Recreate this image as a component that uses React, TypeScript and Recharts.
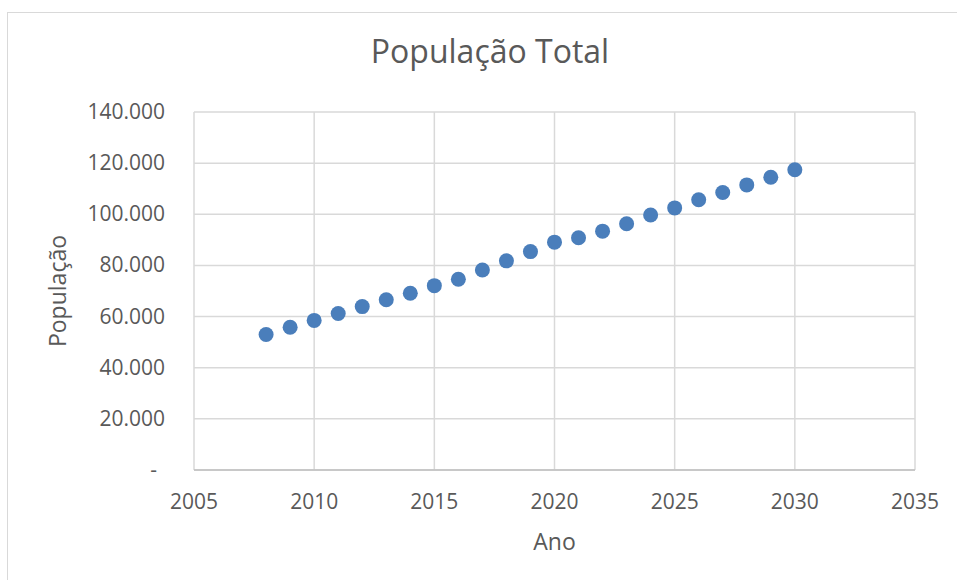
import { CartesianGrid, Label, Scatter, ScatterChart, XAxis, YAxis } from "recharts"

const years = [2008, 2009, 2010, 2011, 2012, 2013, 2014, 2015, 2016, 2017, 2018, 2019, 2020, 2021, 2022, 2023, 2024, 2025, 2026, 2027, 2028, 2029, 2030]
const population = [53000, 55800, 58500, 61200, 63900, 66600, 69100, 72100, 74600, 78200, 81800, 85400, 89100, 90800, 93400, 96300, 99700, 102500, 105700, 108500, 111500, 114500, 117400]
const xTicks = [2005, 2010, 2015, 2020, 2025, 2030, 2035]
const yTicks = [0, 20000, 40000, 60000, 80000, 100000, 120000, 140000]

const FONT = "'Open Sans', sans-serif"
const TEXT = "#595959"

const data = years.map((ano, i) => ({ ano, pop: population[i] }))

const fmt = (v: number) => (v === 0 ? "-" : v.toLocaleString("pt-BR"))

function YTick(props: any) {
  const { x, y, payload } = props
  const isZero = payload.value === 0
  return (
    <text x={isZero ? x - 8 : x} y={y} dy={7} textAnchor="end" fill={TEXT} fontSize={21} fontFamily={FONT}>
      {fmt(payload.value)}
    </text>
  )
}

function XTick(props: any) {
  const { x, y, payload } = props
  return (
    <text x={x} y={y} dy={39} textAnchor="middle" fill={TEXT} fontSize={21} fontFamily={FONT}>
      {payload.value}
    </text>
  )
}

function Dot(props: any) {
  return <circle cx={props.cx} cy={props.cy} r={7.5} fill="#4a7ebb" />
}

export default function App() {
  return (
    <div style={{ position: "absolute", left: 0, top: 0, width: 957, height: 580, background: "#fff", overflow: "hidden" }}>
      <div style={{ position: "absolute", left: 7, top: 12, width: 1100, height: 1100, border: "1.5px solid #d9d9d9" }} />
      <div
        style={{
          position: "absolute",
          left: 290,
          width: 400,
          top: 35,
          textAlign: "center",
          fontFamily: FONT,
          fontSize: 32,
          lineHeight: "32px",
          color: TEXT,
        }}
      >
        População Total
      </div>
      <div style={{ position: "absolute", left: 0, top: 0 }}>
        <ScatterChart width={957} height={580} margin={{ top: 112, right: 42, bottom: 0, left: 0 }}>
          <CartesianGrid stroke="#d9d9d9" strokeWidth={1.5} />
          <XAxis
            type="number"
            dataKey="ano"
            domain={[2005, 2035]}
            ticks={xTicks}
            height={110}
            tickSize={0}
            tickMargin={0}
            tickLine={false}
            axisLine={{ stroke: "#bfbfbf", strokeWidth: 1.5 }}
            tick={<XTick />}
            interval={0}
          >
            <Label
              content={(p: any) => (
                <text
                  x={p.viewBox.x + p.viewBox.width / 2}
                  y={p.viewBox.y + 80}
                  textAnchor="middle"
                  fill={TEXT}
                  fontSize={23}
                  fontFamily={FONT}
                >
                  Ano
                </text>
              )}
            />
          </XAxis>
          <YAxis
            type="number"
            dataKey="pop"
            domain={[0, 140000]}
            ticks={yTicks}
            width={194}
            tickSize={0}
            tickMargin={29}
            tickLine={false}
            axisLine={false}
            tick={<YTick />}
            interval={0}
          >
            <Label
              content={(p: any) => {
                const cx = p.viewBox.x + 66
                const cy = p.viewBox.y + p.viewBox.height / 2
                return (
                  <text
                    x={cx}
                    y={cy}
                    transform={`rotate(-90 ${cx} ${cy})`}
                    textAnchor="middle"
                    fill={TEXT}
                    fontSize={23}
                    fontFamily={FONT}
                  >
                    População
                  </text>
                )
              }}
            />
          </YAxis>
          <Scatter data={data} fill="#4a7ebb" shape={<Dot />} isAnimationActive={false} />
        </ScatterChart>
      </div>
    </div>
  )
}
